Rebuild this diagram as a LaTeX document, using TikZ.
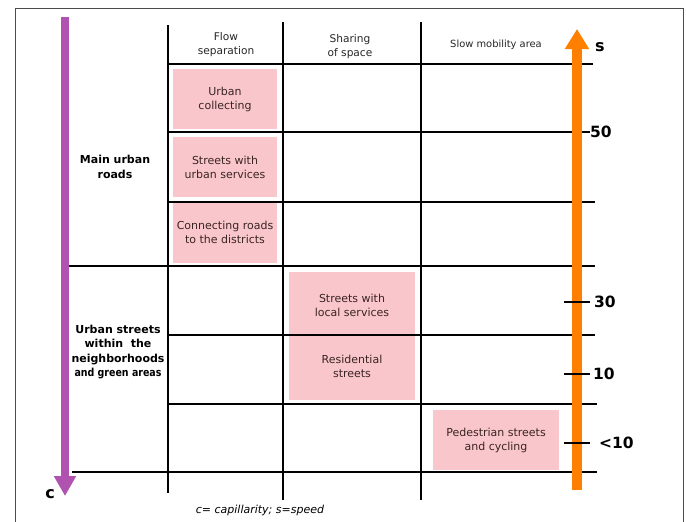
\documentclass[tikz,border=0pt]{standalone}
\usepackage{fontspec}
\setmainfont{DejaVu Sans}
\usetikzlibrary{arrows.meta}
\definecolor{boxpink}{HTML}{F9C6CB}
\definecolor{axpurple}{HTML}{B052B0}
\definecolor{axorange}{HTML}{FF8000}
\definecolor{txtdark}{HTML}{3A2424}
\tikzset{
  grid/.style={line width=1.7pt, black},
  cell/.style={fill=boxpink, draw=none, inner sep=0pt, align=center, text=txtdark,
    font=\fontsize{11}{14}\selectfont},
  hdr/.style={align=center, text=black!85, font=\fontsize{10.6}{14}\selectfont},
  rowlab/.style={align=center, font=\bfseries\fontsize{11}{14.3}\selectfont},
  num/.style={font=\bfseries\fontsize{15.5}{17}\selectfont, anchor=west, inner sep=0pt},
  tick/.style={line width=1.7pt, black},
}
\begin{document}
\begin{tikzpicture}[x=1pt,y=-1pt]
\useasboundingbox (0,0) rectangle (686,522);
\fill[white] (0,0) rectangle (686,522);
% frame
\draw[black!70, line width=1pt] (15,530) -- (15,8) -- (683,8) -- (683,530);

% pink boxes
\node[cell, minimum width=104pt, minimum height=60pt] (uc) at (225,99) {Urban\\collecting};
\node[cell, minimum width=104pt, minimum height=60pt] (su) at (225,167) {Streets with\\urban services};
\node[cell, minimum width=104pt, minimum height=60pt] (cr) at (225,232.5) {Connecting roads\\to the districts};
\node[cell, minimum width=126pt, minimum height=128pt] (lsbg) at (352,336) {};
\node[cell] (ls) at (352,305) {Streets with\\local services};
\node[cell] (rs) at (352,366) {Residential\\streets};
\node[cell, minimum width=126pt, minimum height=60pt] (ped) at (496,440) {Pedestrian streets\\and cycling};

% grid
\draw[grid] (168,25) -- (168,493);
\draw[grid] (283,22) -- (283,500);
\draw[grid] (421,22) -- (421,500);
\draw[grid] (168,64) -- (593,64);
\draw[grid] (168,132) -- (590,132);
\draw[grid] (168,202) -- (595,202);
\draw[grid] (68,266) -- (595,266);
\draw[grid] (168,335) -- (595,335);
\draw[grid] (168,404) -- (597,404);
\draw[grid] (72,472) -- (597,472);

% headers
\node[hdr] (h1) at (226,45) {Flow\\separation};
\node[hdr] (h2) at (350,47) {Sharing\\of space};
\node[hdr, font=\fontsize{9.9}{12}\selectfont] (h3) at (496,45) {Slow mobility area};

% row labels
\node[rowlab] (r1) at (115,167) {Main urban\\roads};
\node[rowlab] (r2) at (118,352) {Urban streets\\within\ \ the\\neighborhoods\\\scalebox{0.86}[1]{and green areas}};

% purple arrow (capillarity)
\coordinate (cs) at (65,17);
\coordinate (ce) at (65,496);
\draw[axpurple, line width=8pt, -{Triangle[length=20pt, width=21pt]}] (cs) -- (ce);
\node[font=\bfseries\fontsize{16}{17}\selectfont, inner sep=0pt] (c) at (50,494) {c};

% orange arrow (speed)
\coordinate (ss) at (577,490);
\coordinate (se) at (577,29);
\draw[axorange, line width=10pt, -{Triangle[length=20pt, width=23pt]}] (ss) -- (se);
\node[num, font=\bfseries\fontsize{16}{17}\selectfont] (s) at (595,47) {s};

% ticks and numbers
\node[num] (n50) at (590,132) {50};
\draw[tick] (564,302) -- (590,302);
\node[num] (n30) at (594,302) {30};
\draw[tick] (564,374) -- (590,374);
\node[num] (n10) at (593,374) {10};
\draw[tick] (564,443) -- (590,443);
\node[num] (n10b) at (599,443) {<10};

% caption
\node[font=\itshape\fontsize{11}{12}\selectfont] (cap) at (260,510) {c= capillarity; s=speed};
\end{tikzpicture}
\end{document}
